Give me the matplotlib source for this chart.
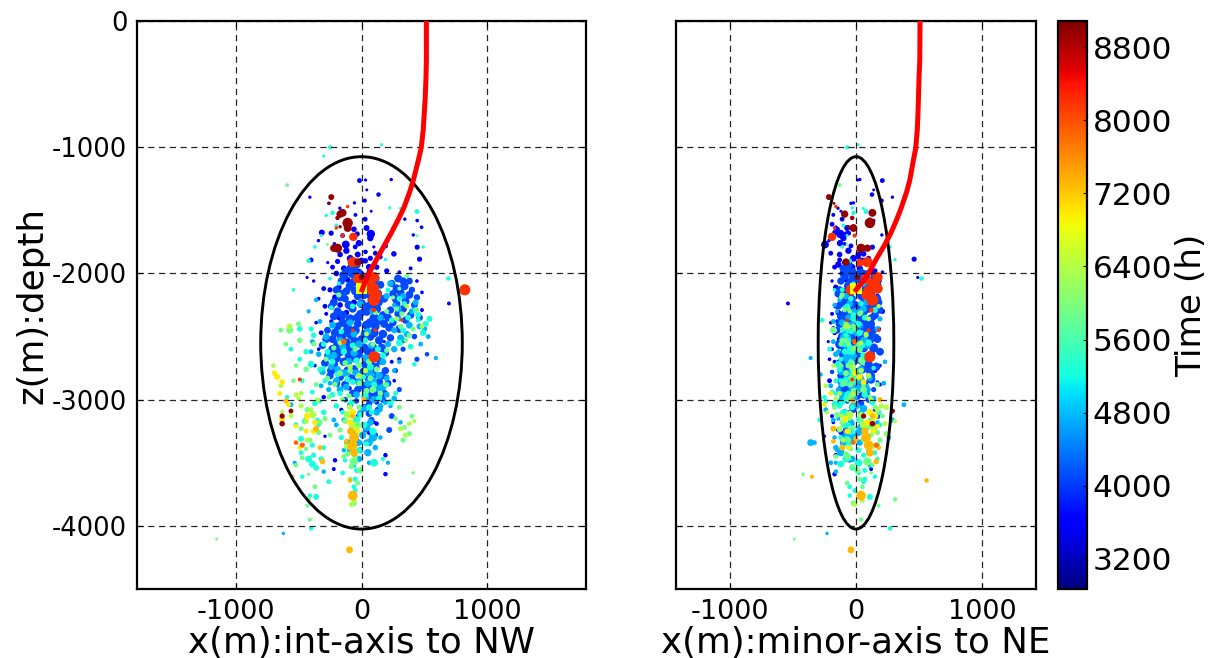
import numpy as np
import matplotlib
matplotlib.use('Agg')
import matplotlib.pyplot as plt
from matplotlib.patches import Ellipse

plt.rcParams['axes.unicode_minus'] = False

# events: x int-axis, x minor-axis, z, magnitude class
t_deep = 3550
ev_deep = [[-16,209,-1264,.3],[32,13,-1260,-.3],[42,140,-1338,-.4],[135,127,-1375,.2],[26,204,-1423,.1],
 [236,30,-1256,-.2],[-410,289,-1396,-.2],[-260,-40,-1444,-.2],[-56,-20,-1441,-.2],[-172,-143,-1483,-.2],
 [77,-120,-1507,-.4],[-48,-180,-1536,0],[29,-110,-1570,.3],[344,110,-1570,-.2],[442,140,-1581,-.1],
 [477,-160,-1634,-.1],[411,205,-1695,-.2],[442,130,-1792,.4],[74,-125,-1687,1.1],[-125,-246,-1771,1.0],
 [-21,-127,-1760,.7],[-241,-60,-1681,.4],[-315,-165,-1676,.6],[-342,-215,-1740,-.2],[-215,-90,-1766,-.1],
 [-34,-80,-1687,.4],[32,50,-1829,.2],[191,-40,-1782,.3],[257,60,-1845,.5],[461,461,-1887,.4],
 [-400,-130,-1893,.3],[-268,-100,-1914,-.3],[-432,490,-2032,-.3],[694,-540,-2238,0],[98,40,-1790,-.3],
 [-190,-75,-1905,.4],[-90,-20,-1880,.8],[-30,20,-1850,.6],[30,90,-1900,.5],[-140,-50,-1960,.6],
 [-200,-110,-2000,.5],[-60,30,-1960,.7],[120,-40,-1950,.5],[60,130,-1990,.4],[-110,-80,-2050,.5],
 [-250,-120,-2130,.4],[-210,-100,-2190,.6],[-170,-90,-2250,.5],[-290,-160,-2260,.3],[-120,-140,-2310,.5],
 [-60,-70,-2230,.6],[-180,140,-2350,.4],[-90,180,-2440,.3],[10,210,-2300,.4],[-240,-130,-2520,.5],
 [-320,-170,-2470,.3],[-50,-210,-2850,.3],[-15,200,-2620,.2],[200,-10,-2820,.2],[270,150,-2770,.3],
 [-290,-250,-3290,-.2],[-210,-50,-3480,.2],[-220,120,-3550,0],[190,-170,-3590,.2],[120,30,-3020,.3],
 [-300,-100,-2980,.2],[-95,-60,-2910,.2],[180,-220,-2540,-.3],[220,-180,-2430,-.2],[60,170,-2180,.3],
 [-380,-190,-2060,-.2],[120,-30,-3190,.2],[60,-120,-3260,.3],[190,-160,-3440,.2],
 [-110,-190,-1610,.3],[-60,-150,-1650,.5],[-150,-100,-1700,.3],[40,-70,-1640,.6],[70,-100,-1720,.7],
 [110,-200,-1840,.3],[150,20,-1870,.2],[-170,-130,-1850,.5],[-120,-60,-1820,.7],[-50,30,-1790,.3],
 [-80,-140,-1930,.7],[0,50,-1900,.7],[70,100,-1880,.4],[-230,-170,-1950,.3],[-150,-10,-2010,.7],
 [-20,-70,-1990,.8],[60,-30,-1950,.7],[200,150,-1980,.4],[-300,-60,-2120,.3],[-180,-160,-2110,.5],
 [-340,-120,-2200,-.1],[-280,-190,-2320,0],[-360,-200,-2390,-.1],[-240,-150,-2380,.1],[300,210,-1990,-.1],
 [390,-30,-1960,0],[440,190,-2060,-.1],[480,-110,-2150,-.1],[480,170,-2290,0],[-130,-210,-2680,-.1],
 [240,-170,-2700,0],[300,-90,-2680,.1],[-370,190,-2730,-.1],[-340,-190,-2600,-.1],[260,-150,-2850,-.1],
 [-160,150,-3080,.1],[60,190,-2880,0],[-30,-190,-3130,0],[100,-180,-3180,-.1]]

t_royal = 4100
ev_royal = [[-90,-100,-1960,1.0],[-40,-60,-1930,1.1],[-120,-30,-1990,1.2],[-70,40,-2000,1.3],[-10,80,-2010,1.2],
 [60,120,-2030,1.3],[110,150,-2040,1.1],[-160,-120,-2060,.9],[-60,-40,-2070,1.2],[50,30,-2080,1.2],
 [150,170,-2090,1.0],[-200,-130,-2130,.9],[-120,-70,-2140,1.0],[90,90,-2120,1.2],[-170,-110,-2190,1.0],
 [-130,-30,-2200,.9],[-30,40,-2180,1.0],[20,120,-2170,1.1],[80,150,-2210,1.1],[140,180,-2230,.9],
 [-240,-140,-2260,.8],[-190,-50,-2300,1.0],[-150,30,-2330,1.1],[-70,100,-2280,1.0],[-10,-90,-2320,1.0],
 [40,60,-2300,1.2],[100,-100,-2350,1.2],[170,150,-2330,1.0],[240,170,-2080,.9],[290,10,-2040,1.0],
 [340,50,-2100,1.1],[380,-30,-2060,.8],[310,110,-2150,1.0],[250,-50,-2160,.9],[400,-70,-2130,.7],
 [280,-120,-2240,.9],[350,100,-2220,1.0],[420,30,-2250,.8],[230,190,-2290,.9],[290,-60,-2320,.9],
 [350,-10,-2370,.9],[250,70,-2390,.9],[180,-130,-2400,1.0],[110,-60,-2420,1.1],[40,20,-2410,1.2],
 [-30,120,-2400,1.0],[-110,80,-2430,1.1],[-190,-90,-2420,1.0],[-270,-150,-2450,.8],[-230,-20,-2520,1.0],
 [-160,40,-2510,1.2],[-80,110,-2490,1.2],[0,170,-2520,1.0],[70,-110,-2500,1.1],[140,-40,-2530,1.1],
 [230,60,-2510,.9],[-310,-130,-2570,.9],[-230,-80,-2600,1.1],[-170,-10,-2620,1.2],[-90,60,-2590,1.2],
 [-20,120,-2640,1.0],[50,190,-2620,1.0],[120,-60,-2660,1.1],[190,10,-2630,.9],[-290,-130,-2710,1.0],
 [-220,-90,-2720,1.1],[-140,-20,-2700,1.1],[-60,50,-2760,1.1],[30,100,-2720,1.1],[110,160,-2740,1.1],
 [190,-70,-2770,.9],[-250,-120,-2810,.9],[-170,-40,-2820,1.0],[-80,30,-2830,1.0],[60,120,-2840,1.1],
 [140,-10,-2860,1.0],[210,70,-2870,.8],[-30,-100,-2920,.9],[40,-50,-2930,1.0],[110,60,-2960,1.0],
 [180,-20,-2950,.9],[300,140,-2920,.4],[-130,-100,-3000,.5],[-40,-70,-3010,.5],[60,40,-3030,.7],
 [170,100,-3000,.7],[330,120,-2530,.6],[420,160,-2500,.5],[60,-60,-3110,.8],[130,-20,-3080,.7],
 [80,30,-3160,.6],[30,-140,-3240,.3],[240,170,-3130,.6],[220,-80,-3240,.6],[110,-100,-3280,.4],
 [440,60,-2680,.4],[520,-50,-2640,.2],[-120,170,-2860,-.1],[-150,-190,-2780,.2],[330,40,-2600,.4],
 [-60,-70,-1970,1.2],[-140,-90,-2020,1.1],[-30,-20,-2040,1.3],[30,50,-2050,1.2],[90,140,-2070,1.2],
 [-90,-60,-2100,1.2],[-160,-140,-2160,1.0],[-50,20,-2140,1.1],[50,70,-2150,1.2],[130,100,-2160,1.1],
 [-220,-80,-2230,1.0],[-100,-10,-2250,1.1],[0,60,-2240,1.2],[60,130,-2260,1.2],[120,20,-2280,1.2],
 [180,170,-2200,1.0],[-220,-120,-2340,1.0],[-90,-60,-2360,1.2],[-30,40,-2350,1.2],[70,-80,-2390,1.2],
 [140,110,-2370,1.2],[210,-30,-2350,1.0],[-150,-120,-2390,1.1],[280,-40,-2120,1.1],[330,80,-2060,.9],
 [380,60,-2170,1.0],[440,-100,-2190,.7],[270,-100,-2200,1.0],[330,-30,-2280,1.0],[390,10,-2330,.9],
 [460,120,-2350,.8],[220,30,-2430,1.0],[300,-80,-2440,1.0],[-210,-50,-2470,1.1],[-130,10,-2470,1.2],
 [-50,130,-2450,1.2],[30,90,-2480,1.2],[100,-30,-2470,1.2],[170,30,-2480,1.1],[-280,-110,-2520,1.0],
 [-190,-130,-2560,1.2],[-120,50,-2550,1.2],[-50,-60,-2540,1.2],[20,-20,-2590,1.2],[90,140,-2590,1.2],
 [160,-90,-2590,1.1],[-260,-60,-2650,1.2],[-200,10,-2670,1.2],[-100,-100,-2640,1.2],[-50,70,-2670,1.2],
 [70,-40,-2690,1.2],[150,40,-2690,1.1],[-240,-30,-2770,1.1],[-110,110,-2770,1.1],[20,-90,-2780,1.2],
 [90,-10,-2800,1.2],[160,120,-2810,1.0],[-200,-110,-2870,1.0],[-130,-20,-2880,1.0],[10,50,-2890,1.1],
 [80,-60,-2900,1.1],[-70,80,-2950,.9],[60,10,-2970,1.0],[150,-110,-2900,.9],[20,-30,-3060,.8]]

t_azure = 4750
ev_azure = [[230,60,-2080,.7],[330,120,-2180,.6],[400,30,-2300,.6],[460,-40,-2420,.6],[260,-30,-2450,.6],
 [360,10,-2480,.7],[150,-60,-2350,.7],[50,-10,-2460,.8],[-60,-90,-2480,.8],[-170,60,-2530,.8],
 [-280,-100,-2500,.8],[-340,-160,-2640,.5],[-260,-20,-2660,.9],[-190,40,-2760,.8],[-100,-60,-2700,.9],
 [-20,20,-2560,.9],[80,90,-2570,.8],[170,-40,-2700,.8],[260,30,-2600,.7],[-310,-120,-2780,.7],
 [-200,-30,-2850,.8],[-120,80,-2900,.8],[-40,-110,-2960,.8],[50,-50,-2870,.9],[130,30,-2910,.9],
 [200,110,-2830,.6],[-260,-140,-2920,.4],[-90,-20,-3040,.7],[20,60,-3070,.9],[120,-90,-3100,.8],
 [190,-130,-3020,.5],[260,140,-2990,.5],[90,-20,-3300,1.1],[40,40,-3220,1.0],[-30,-60,-3340,.9],
 [50,-120,-3420,.9],[110,-160,-3380,.5],[-20,-30,-3470,.7],[-140,-180,-3160,.3],[-100,100,-3400,.2],
 [260,-170,-2250,.2],[300,190,-2360,.4],[500,170,-2440,.5],[530,-60,-2500,.3],[470,90,-2560,.3],
 [-360,-130,-2210,.2],[-390,-180,-2540,.3],[-320,-200,-2890,.3],[-250,220,-2870,.3],[590,-360,-2670,.1],
 [150,-240,-3080,.3],[90,-280,-2800,.1],[-80,150,-3230,.2],[210,-200,-3500,.1],[-440,-140,-3150,.1],
 [-530,-160,-3500,.1],[-110,-360,-3340,.8],[-40,260,-3300,.3],[-620,-230,-4060,-.2],[-10,-330,-3340,.3],
 [-60,110,-3520,.3],[-560,380,-3040,.3],[-220,290,-3160,.3],
 [-10,-50,-2240,.8],[90,-10,-2300,.8],[200,-80,-2180,.7],[290,60,-2280,.8],[380,-50,-2410,.8],
 [430,80,-2230,.6],[310,-70,-2510,.8],[-90,-110,-2390,.8],[-230,30,-2410,.8],[-150,-70,-2580,.9],
 [-60,-30,-2630,.9],[30,-80,-2670,.9],[110,70,-2670,.9],[210,-110,-2560,.7],[-220,-60,-2650,.9],
 [-130,10,-2790,.9],[-40,-50,-2790,.9],[60,10,-2780,1.0],[140,-70,-2810,.9],[-240,-120,-2740,.7],
 [-170,90,-2920,.8],[-20,-90,-2860,1.0],[90,40,-2850,1.0],[170,-30,-2900,.9],[30,-20,-2980,1.0],
 [100,-110,-3000,.9],[-10,40,-3110,.8],[70,-40,-3180,.8],[10,-70,-3280,.9],[-50,20,-3260,.9],
 [60,-100,-3340,.9],[-10,-120,-3400,.7],[40,30,-3340,.7],[150,10,-3050,.6],[200,70,-2960,.6],
 [-420,-150,-2300,.1],[-330,-180,-2380,.3],[-400,-140,-2620,.3],[300,230,-2700,.2],[260,-130,-2770,.3],
 [230,-170,-3050,.2],[310,170,-3180,.2],[-200,160,-3200,.3],[-140,-150,-3400,.2],[150,-170,-3300,.2],
 [60,-200,-3500,.2],[-300,-160,-3570,.2]]

t_cyan = 5250
ev_cyan = [[-250,-70,-1000,.1],[-300,10,-1070,-.3],[160,15,-980,-.3],[-280,-90,-1540,-.2],[-230,-20,-1520,.2],
 [440,80,-1510,.3],[310,60,-1485,-.3],[225,-30,-1480,-.3],[-370,-110,-1790,-.1],[-420,-50,-1900,.2],
 [490,270,-1790,-.2],[-200,-100,-1620,0],[-320,-70,-1700,-.3],[-250,60,-2040,0],[-180,-20,-2080,.1],
 [-240,-90,-2270,.2],[-540,-170,-2130,-.1],[190,310,-1890,-.2],[450,-270,-2370,.3],[690,520,-2040,.2],
 [-490,-100,-2440,.5],[-400,-60,-2440,.4],[-380,-80,-2490,.5],[-490,-120,-2680,.3],[-400,-140,-2720,.8],
 [-440,-60,-2620,.5],[-300,-90,-2560,.5],[-230,-40,-2700,.6],[-140,-30,-2620,.7],[-40,40,-2690,.7],
 [70,-30,-2740,.8],[170,60,-2650,.7],[300,100,-2550,.8],[390,-50,-2580,.6],[490,30,-2470,.7],
 [540,-20,-2360,.6],[430,150,-2290,.6],[340,40,-2240,.5],[-70,-70,-2260,.5],[-290,-120,-2850,.4],
 [-170,-60,-2950,.5],[-70,-10,-2860,.6],[30,70,-2960,.7],[140,-80,-2990,.7],[230,130,-3020,.7],
 [-200,-130,-3050,.5],[-300,180,-3100,.5],[-450,110,-3170,.6],[-520,-60,-3200,.4],[-370,-170,-3030,.5],
 [-40,30,-3160,.9],[20,-90,-3200,.8],[90,-40,-3250,.9],[-160,-120,-3300,.4],[-480,-70,-3310,.6],
 [-390,170,-3360,.4],[-390,-120,-3510,.8],[-420,-80,-3470,.8],[-360,-30,-3540,.6],[-380,60,-3440,.4],
 [100,20,-3500,1.0],[-50,70,-3630,.4],[-360,110,-3770,.6],[-410,-50,-3760,.2],[-470,150,-3610,.2],
 [-130,80,-3480,.2],[-40,70,-3560,.4],[-50,-10,-3720,.3],[-300,-110,-3380,.3],[-340,190,-3200,.3],
 [-350,-290,-3160,.2],[-330,-240,-3010,.3],[-590,-250,-2980,.2],[-400,270,-4020,.2],
 [210,-110,-2130,.3],[300,-40,-2200,.5],[370,70,-2350,.6],[450,-20,-2330,.6],[510,20,-2400,.6],
 [240,-10,-2370,.5],[330,-60,-2450,.6],[-160,-40,-2460,.5],[-70,50,-2570,.6],[30,-60,-2530,.6],
 [130,30,-2600,.6],[-270,-90,-2620,.6],[-190,-30,-2800,.6],[-110,-80,-2840,.6],[10,-10,-2820,.7],
 [100,-50,-2880,.6],[200,-110,-2880,.5],[-330,-130,-2760,.5],[-230,-70,-2960,.5],[-80,-110,-3020,.6],
 [60,-30,-3060,.6],[-10,-80,-3120,.5],[80,-80,-3100,.5],[40,-60,-3350,.5],[-20,20,-3400,.6],
 [-560,-210,-2600,.3],[-470,-160,-2850,.3],[-390,-190,-2940,.3],[-300,140,-2750,.2],[-480,150,-3420,.3],
 [-320,-60,-3470,.5],[-260,60,-3650,.3],[-150,-110,-3100,.3],[270,-160,-2950,.3],[420,-140,-2720,.2],
 [-60,-50,-3690,.3],[-150,20,-3580,.3],[170,170,-3470,.2]]

t_green = 5900
ev_green = [[-590,-130,-1300,.01],[440,-20,-1700,-.4],[-270,-70,-1770,-.4],[300,200,-2120,0],[360,100,-2020,.2],
 [-180,-110,-2170,.4],[280,-60,-2280,.2],[110,40,-2310,.3],[310,-20,-2420,.4],[380,80,-2490,.4],
 [440,-90,-2290,.2],[-570,-180,-2450,.8],[-490,-110,-2530,.5],[-500,-80,-2400,.4],[-640,-170,-2450,.3],
 [-380,20,-2560,.3],[-520,-120,-2730,.2],[-440,-30,-2760,.5],[-280,40,-2680,.3],[-170,-80,-2790,.6],
 [60,50,-2700,.6],[120,-20,-2760,.6],[200,30,-2610,.4],[-210,-40,-2880,.4],[-15,-90,-2870,.6],
 [90,60,-2920,.8],[150,0,-2950,.5],[-260,110,-2980,.3],[-150,-60,-3000,.4],[-430,170,-3080,.5],
 [-390,-150,-3120,.6],[-330,-110,-3180,.5],[-290,130,-3150,.4],[-480,90,-3230,.3],[-410,-60,-3320,.4],
 [270,-50,-3150,.2],[340,-20,-3220,.3],[380,240,-3270,.4],[330,190,-3320,.4],[-20,-170,-3060,.4],
 [-70,60,-3320,.5],[-30,110,-3200,.7],[-110,-80,-3430,.5],[-140,-160,-3450,.3],[-50,-60,-3450,.5],
 [-10,10,-3560,.7],[-80,-30,-3530,.5],[-60,90,-3490,1.1],[-370,50,-3690,.3],[-440,-40,-3390,.2],
 [-420,-420,-3590,-.2],[-420,310,-3790,.2],[-60,-20,-3820,.5],[-1150,-490,-4105,-.4],[-430,180,-3840,0],
 [-410,40,-3950,.1],[-470,-70,-3460,.3],[190,170,-2880,.3],[410,120,-3580,-.2],[250,-120,-2190,.1],
 [200,-50,-2300,.3],[320,30,-2320,.4],[410,-10,-2440,.4],[350,-80,-2530,.3],[90,-60,-2560,.4],
 [-50,-20,-2600,.4],[-220,-10,-2590,.4],[-130,-30,-2710,.5],[-20,-60,-2730,.6],[70,-40,-2830,.6],
 [-90,-10,-2770,.6],[-270,10,-2830,.4],[40,-20,-2930,.6],[-100,-40,-2970,.5],
 [-600,-120,-2560,.3],[-540,-30,-2850,.2],[-360,60,-2880,.3],[-340,170,-3260,.4],[-250,120,-3280,.3],
 [-170,-130,-3240,.4],[-130,40,-3170,.5],[300,150,-3060,.3],[400,210,-3130,.3],[-90,30,-3630,.3],
 [-30,-70,-3660,.3],[-520,130,-3520,.2]]

t_lime = 6350
ev_lime = [[-570,-80,-2420,.6],[-700,-180,-2730,.2],[-640,-240,-2890,.3],[-520,-20,-2960,.3],[-380,40,-3120,.6],
 [-440,-100,-3170,.5],[-400,170,-3080,.4],[-350,120,-3000,.3],[-90,-20,-2740,.4],[30,40,-2770,.5],
 [-20,100,-2810,.5],[-110,-50,-3120,1.0],[-70,60,-3200,.9],[-40,140,-3230,.7],[-95,240,-3060,.5],
 [-60,90,-3310,.6],[-120,130,-3370,.5],[-70,-60,-3380,.4],[-560,-110,-3130,.3],[-430,-100,-3320,.4],
 [-80,-10,-3830,.4],[-60,50,-3800,.3],[310,-130,-3230,.4],[350,250,-3280,.4],[380,230,-3190,.3],
 [420,310,-3170,.1],[-500,-160,-2990,.2],[280,100,-2360,.3],[360,180,-2260,.2],[480,-60,-2420,.3],
 [-630,-230,-3100,.1],[-480,200,-3050,.4],[40,80,-2480,.3],[-170,40,-2550,.3],[-480,-130,-2950,.3]]

t_yellow = 6950
ev_yellow = [[-690,-10,-2790,.5],[-670,30,-2820,.6],[-630,60,-2860,.5],[-650,-200,-2950,.3],[-580,-250,-3040,.3],
 [-630,-80,-3150,.6],[-430,150,-3130,.8],[-370,130,-3180,.5],[-380,-70,-3250,.5],[-90,90,-3180,.7],
 [-70,110,-3100,.8],[-30,140,-3250,.5],[-520,170,-3210,.2],[-490,-60,-3380,.2],[-440,-60,-3250,.3]]

t_amber = 7300
ev_amber = [[-60,80,-3300,1.3],[-70,100,-3360,1.3],[-60,110,-3420,1.0],[-85,70,-3250,.9],[-70,130,-3130,.4],
 [-120,-180,-3330,.3],[-360,-180,-3230,.6],[-310,160,-3490,.5],[-330,180,-3380,.3],[-600,-25,-3010,.4],
 [-70,40,-3760,1.3],[-95,-40,-4190,.8],[-550,-350,-3610,.1],[-70,0,-3310,.5],[-90,560,-3640,.2],
 [-90,-110,-3380,.6],[20,190,-3000,.4]]

t_orange = 7850
ev_orange = [[-140,-10,-2540,.5],[-520,-20,-3340,.2],[-470,160,-3360,.4]]

t_red = 8200
ev_red = [[820,-40,-2130,1.5],[100,110,-2660,1.5],[-65,-190,-1710,1.1],[-70,90,-1910,1.4],[-35,30,-1915,1.0],
 [-30,80,-2040,1.3],[20,120,-2080,1.2],[70,150,-2090,1.4],[90,100,-2140,1.5],[100,170,-2120,1.4],
 [100,130,-2210,1.6],[95,120,-2290,.3],[100,170,-2030,1.4],[120,80,-2170,1.3],[-70,180,-2450,-.1],
 [110,100,-2450,0],[-110,-160,-1470,-.2],[-200,-170,-1640,-.2],[-490,-30,-2840,0],[320,-70,-2370,-.2],
 [-150,-10,-1700,.1]]

t_dark = 8950
ev_dark = [[-240,-215,-1395,.6],[-170,-90,-1530,.9],[-150,130,-1520,1.0],[-110,110,-1600,1.4],[-110,-20,-1640,1.0],
 [-190,-30,-1560,.2],[-190,40,-1800,1.2],[-220,90,-1800,.9],[-30,-80,-1910,.9],[0,10,-2030,.5],
 [-630,60,-3130,.4],[-630,130,-3190,.5],[-560,290,-3090,.3],[-255,-175,-1445,-.4],[-170,-60,-1630,-.2]]

groups = [(t_deep,ev_deep),(t_royal,ev_royal),(t_azure,ev_azure),(t_cyan,ev_cyan),(t_green,ev_green),
          (t_lime,ev_lime),(t_yellow,ev_yellow),(t_amber,ev_amber),(t_orange,ev_orange),(t_red,ev_red),(t_dark,ev_dark)]

# well path
well_xi = [515,515,512,505,497,490,474,452,412,384,335,288,235,180,125,45,5]
well_xm = [508,506,500,495,491,486,474,456,427,403,358,320,276,224,165,85,0]
well_z = [0,-310,-450,-625,-750,-863,-1006,-1100,-1259,-1350,-1483,-1580,-1681,-1780,-1879,-2025,-2130]
inj_xi, inj_xm, inj_z = 3, 0, -2120

# stimulated volume ellipses
ell_z0, ell_h = -2550, 2950
ell_wi, ell_wm = 1600, 600

time_ticks = [3200,4000,4800,5600,6400,7200,8000,8800]
tmin, tmax = 2870, 9085

xi,xm,zz,tt,mm = [],[],[],[],[]
for t,ev in groups:
    a = np.array(ev,dtype=float)
    xi.append(a[:,0]); xm.append(a[:,1]); zz.append(a[:,2]); mm.append(a[:,3]); tt.append(np.full(len(a),t))
xi,xm,zz,tt,mm = [np.concatenate(v) for v in (xi,xm,zz,tt,mm)]
size = 8*4**mm

fig = plt.figure(figsize=(12.12,6.58),dpi=100)
W,H = 1212.,658.
ax1 = fig.add_axes([137/W,1-589/H,449/W,568/H])
ax2 = fig.add_axes([676/W,1-589/H,360/W,568/H])
cax = fig.add_axes([1058/W,1-589/H,29/W,568/H])

for ax,x,wx,w,xlim in ((ax1,xi,well_xi,ell_wi,1782),(ax2,xm,well_xm,ell_wm,1428)):
    sc = ax.scatter(x,zz,c=tt,s=size,cmap='jet',vmin=tmin,vmax=tmax,edgecolors='none',zorder=2)
    ax.scatter([inj_xi if ax is ax1 else inj_xm],[inj_z],marker='s',s=64,color='yellow',edgecolors='none',zorder=2.5)
    ax.plot(wx,well_z,color='r',lw=3.6,zorder=4)
    ax.add_patch(Ellipse((0,ell_z0),w,ell_h,fill=False,edgecolor='k',lw=2.1,zorder=3))
    ax.grid(True,color='k',ls=(0,(5,3.6)),lw=0.9,alpha=0.85)
    ax.set_axisbelow(False)
    ax.set_xlim(-xlim,xlim)
    ax.set_ylim(-4500,0)
    ax.set_xticks([-1000,0,1000])
    ax.set_yticks([-4000,-3000,-2000,-1000,0])
    ax.tick_params(direction='in',top=True,right=True,length=4,width=0.8,labelsize=18.5,pad=7)
    for s in ax.spines.values():
        s.set_linewidth(1.6)
    for l in ax.get_xticklabels():
        l.set_fontsize(19.5)
ax2.set_yticklabels([])
ax1.set_xlabel('x(m):int-axis to NW',fontsize=25.7,labelpad=1)
ax2.set_xlabel('x(m):minor-axis to NE',fontsize=25.7,labelpad=1)
ax1.set_ylabel('z(m):depth',fontsize=25.7,labelpad=2)

cb = fig.colorbar(sc,cax=cax)
cb.set_ticks(time_ticks)
cb.ax.tick_params(direction='in',length=3,width=0.8,labelsize=22.5,pad=4)
cb.set_label('Time (h)',fontsize=24.7,labelpad=2)
cb.outline.set_linewidth(1.6)

plt.savefig('out.png',dpi=100)
